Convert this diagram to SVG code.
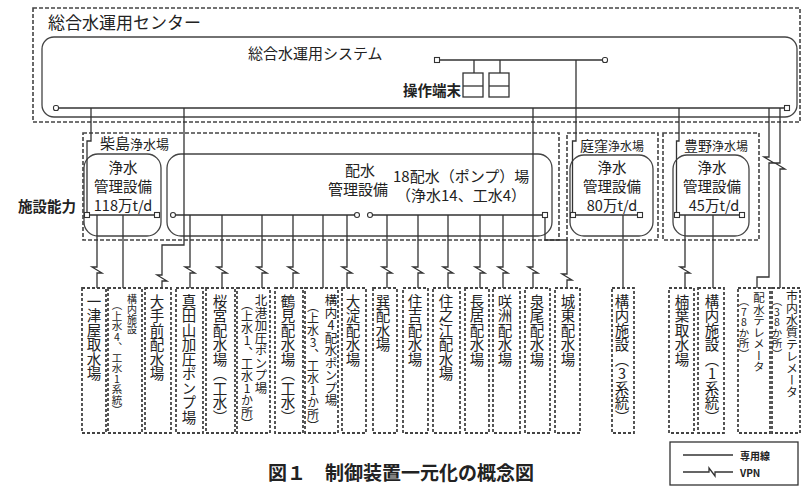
<svg xmlns="http://www.w3.org/2000/svg" width="802" height="493" viewBox="0 0 802 493">
<style>
.ln{stroke:#333;stroke-width:1.3;fill:none}
.dsh{stroke:#444;stroke-width:1.6;fill:none;stroke-dasharray:4 2}
.bdsh{stroke:#444;stroke-width:1.8;fill:none;stroke-dasharray:3 2}
.bx{stroke:#444;stroke-width:1.3;fill:#fff}
.tm{fill:#fff;stroke:#333;stroke-width:1.1}
.t{font-family:"Noto Sans CJK JP","Noto Sans CJK SC",sans-serif;fill:#222}
.c{text-anchor:middle}
.b{font-weight:bold}
.v{writing-mode:vertical-rl;text-orientation:upright;font-size:14.5px}
.vs{writing-mode:vertical-rl;text-orientation:upright;font-size:11.5px}
</style>
<rect width="802" height="493" fill="#fff"/>

<g id="center">
  <rect class="dsh" x="33" y="8" width="767" height="114"/>
  <text class="t" x="48" y="29" font-size="17">総合水運用センター</text>
</g>
<g id="system">
  <rect class="bx" x="42" y="37" width="755" height="80" rx="12"/>
  <text class="t" x="248" y="59" font-size="15">総合水運用システム</text>
</g>
<g id="terminals">
  <rect class="ln" x="463" y="73" width="20" height="24"/>
  <line class="ln" x1="463" y1="86" x2="483" y2="86"/>
  <rect class="ln" x="489" y="73" width="20" height="24"/>
  <line class="ln" x1="489" y1="86" x2="509" y2="86"/>
  <text class="t b" x="403" y="96" font-size="14.5">操作端末</text>
</g>

<g id="kunijima">
  <rect class="dsh" x="83" y="133" width="476" height="107"/>
  <text class="t" x="100" y="149" font-size="15">柴島<tspan font-size="13">浄水場</tspan></text>
</g>
<g id="kunijima-jousui">
  <rect class="bx" x="84" y="154" width="77" height="82" rx="14"/>
  <text class="t c" font-size="14.5"><tspan x="123" y="173">浄水</tspan><tspan x="123" y="192">管理設備</tspan><tspan x="123" y="211">118万t/d</tspan></text>
</g>
<g id="haisui">
  <rect class="bx" x="167" y="154" width="385" height="82" rx="14"/>
  <text class="t c" font-size="15"><tspan x="360" y="176">配水</tspan><tspan x="358" y="195">管理設備</tspan></text>
  <text class="t" font-size="15"><tspan x="393" y="182">18配水（ポンプ）場</tspan><tspan x="396" y="201">（浄水14、工水4）</tspan></text>
</g>
<g id="niwakubo">
  <rect class="dsh" x="567" y="133" width="91" height="107"/>
  <text class="t" x="580" y="151" font-size="14">庭窪<tspan font-size="12">浄水場</tspan></text>
  <rect class="bx" x="570" y="155" width="83" height="81" rx="14"/>
  <text class="t c" font-size="14.5"><tspan x="612" y="173">浄水</tspan><tspan x="612" y="192">管理設備</tspan><tspan x="612" y="211">80万t/d</tspan></text>
</g>
<g id="toyono">
  <rect class="dsh" x="663" y="133" width="96" height="107"/>
  <text class="t" x="684" y="151" font-size="14">豊野<tspan font-size="12">浄水場</tspan></text>
  <rect class="bx" x="673" y="155" width="76" height="81" rx="14"/>
  <text class="t c" font-size="14.5"><tspan x="712" y="173">浄水</tspan><tspan x="712" y="192">管理設備</tspan><tspan x="714" y="211">45万t/d</tspan></text>
</g>
<text class="t b" x="18" y="212" font-size="14.5">施設能力</text>

<g id="connectors">
  <path class="ln" d="M56,108 H787"/>
  <path class="ln" d="M437,60 H605 M474,60 V73 M500,60 V73"/>
  <path class="ln" d="M576,60 V141 H572.5 V213"/>
  <path class="ln" d="M91,108 V141 H87 V213"/>
  <path class="ln" d="M184,108 V245 H162 V275 H157 L167,281 H162 V288"/>
  <path class="ln" d="M533,108 V267 H528 L538,273 H533 V288"/>
  <path class="ln" d="M679,108 V141 H676.5 V213"/>
  <path class="ln" d="M769,108 V157 H764 L774,163 H769 V277 H757 V288"/>
  <path class="ln" d="M780,108 V163 H775 L785,169 H780 V288"/>
  <path class="ln" d="M87,215 H157 M173,215 H357 M370,215 H545 M573,215 H640 M677,215 H742"/>
  <path class="ln" d="M97,215 V267 H92 L102,273 H97 V288"/>
  <path class="ln" d="M123,215 V288"/>
  <path class="ln" d="M190,215 V267 H185 L195,273 H190 V288"/>
  <path class="ln" d="M222,215 V267 H217 L227,273 H222 V288"/>
  <path class="ln" d="M262,215 V267 H257 L267,273 H262 V288"/>
  <path class="ln" d="M293,215 V267 H288 L298,273 H293 V288"/>
  <path class="ln" d="M323,215 V288"/>
  <path class="ln" d="M347,215 V267 H342 L352,273 H347 V288"/>
  <path class="ln" d="M387,215 V267 H382 L392,273 H387 V288"/>
  <path class="ln" d="M418,215 V267 H413 L423,273 H418 V288"/>
  <path class="ln" d="M448,215 V267 H443 L453,273 H448 V288"/>
  <path class="ln" d="M480,215 V267 H475 L485,273 H480 V288"/>
  <path class="ln" d="M503,215 V267 H498 L508,273 H503 V288"/>
  <path class="ln" d="M545,215 V240 H567 V274 H562 L572,280 H567 V288"/>
  <path class="ln" d="M623,215 V288"/>
  <path class="ln" d="M685,215 V267 H680 L690,273 H685 V288"/>
  <path class="ln" d="M713,215 V288"/>
  <rect class="tm" x="53.5" y="105.5" width="5" height="5" rx="2"/>
  <rect class="tm" x="784.5" y="105.5" width="5" height="5"/>
  <rect class="tm" x="434.5" y="57.5" width="5" height="5"/>
  <rect class="tm" x="602.5" y="57.5" width="5" height="5" rx="2"/>
  <rect class="tm" x="84.5" y="212.5" width="5" height="5"/>
  <rect class="tm" x="154.5" y="212.5" width="5" height="5"/>
  <rect class="tm" x="170.5" y="212.5" width="5" height="5" rx="2.5"/>
  <rect class="tm" x="354.5" y="212.5" width="5" height="5" rx="2.5"/>
  <rect class="tm" x="367.5" y="212.5" width="5" height="5" rx="2.5"/>
  <rect class="tm" x="542.5" y="212.5" width="5" height="5"/>
  <rect class="tm" x="570.5" y="212.5" width="5" height="5"/>
  <rect class="tm" x="637.5" y="212.5" width="5" height="5"/>
  <rect class="tm" x="674.5" y="212.5" width="5" height="5"/>
  <rect class="tm" x="739.5" y="212.5" width="5" height="5"/>
</g>

<g id="n1"><rect class="bdsh" x="82" y="288" width="24" height="145"/><text class="t v" x="94" y="294">一津屋取水場</text></g>
<g id="n2"><rect class="bdsh" x="108" y="288" width="34" height="145"/><text class="t vs" x="132" y="294" style="font-size:10px">構内施設</text><text class="t vs" x="117" y="300" style="font-size:10.5px">（上水4、工水1系統）</text></g>
<g id="n3"><rect class="bdsh" x="145" y="288" width="26" height="145"/><text class="t v" x="157" y="294">大手前配水場</text></g>
<g id="n4"><rect class="bdsh" x="176" y="288" width="27" height="145"/><text class="t v" x="189" y="294">真田山加圧ポンプ場</text></g>
<g id="n5"><rect class="bdsh" x="206" y="288" width="29" height="145"/><text class="t v" x="220" y="294">桜宮配水場（工水）</text></g>
<g id="n6"><rect class="bdsh" x="237" y="288" width="33" height="145"/><text class="t vs" x="261" y="294" style="font-size:12.5px">北港加圧ポンプ場</text><text class="t vs" x="247" y="298" style="font-size:12px">（上水1、工水1か所）</text></g>
<g id="n7"><rect class="bdsh" x="275" y="288" width="28" height="145"/><text class="t v" x="288" y="294">鶴見配水場（工水）</text></g>
<g id="n8"><rect class="bdsh" x="305" y="288" width="33" height="145"/><text class="t vs" x="331" y="294" style="font-size:12.5px">構内4配水ポンプ場</text><text class="t vs" x="313" y="300" style="font-size:12px">（上水3、工水1か所）</text></g>
<g id="n9"><rect class="bdsh" x="342" y="288" width="24" height="145"/><text class="t v" x="353" y="294">大淀配水場</text></g>
<g id="n10"><rect class="bdsh" x="373" y="288" width="24" height="145"/><text class="t v" x="383" y="294">巽配水場</text></g>
<g id="n11"><rect class="bdsh" x="403" y="288" width="25" height="145"/><text class="t v" x="415" y="294">住吉配水場</text></g>
<g id="n12"><rect class="bdsh" x="433" y="288" width="27" height="145"/><text class="t v" x="446" y="294">住之江配水場</text></g>
<g id="n13"><rect class="bdsh" x="465" y="288" width="24" height="145"/><text class="t v" x="477" y="294">長居配水場</text></g>
<g id="n14"><rect class="bdsh" x="493" y="288" width="27" height="145"/><text class="t v" x="505" y="294">咲洲配水場</text></g>
<g id="n15"><rect class="bdsh" x="525" y="288" width="25" height="145"/><text class="t v" x="537" y="294">泉尾配水場</text></g>
<g id="n16"><rect class="bdsh" x="555" y="288" width="25" height="145"/><text class="t v" x="568" y="294">城東配水場</text></g>
<g id="n17"><rect class="bdsh" x="612" y="288" width="22" height="145"/><text class="t v" x="622" y="294">構内施設（3系統）</text></g>
<g id="n18"><rect class="bdsh" x="669" y="288" width="25" height="145"/><text class="t v" x="682" y="294">楠葉取水場</text></g>
<g id="n19"><rect class="bdsh" x="698" y="288" width="26" height="145"/><text class="t v" x="712" y="294">構内施設（1系統）</text></g>
<g id="n20"><rect class="bdsh" x="738" y="288" width="32" height="145"/><text class="t vs" x="759" y="292">配水テレメータ</text><text class="t vs" x="744" y="296" style="font-size:10.5px">（78か所）</text></g>
<g id="n21"><rect class="bdsh" x="772" y="288" width="28" height="145"/><text class="t vs" x="792" y="290" style="font-size:12px">市内水質テレメータ</text><text class="t vs" x="777" y="296" style="font-size:10.5px">（38か所）</text></g>

<g id="legend">
  <rect x="670" y="442" width="128" height="43" fill="none" stroke="#333" stroke-width="1.3"/>
  <path class="ln" d="M683,455 H733"/>
  <path class="ln" d="M683,472 H709 V468 L715,476 V472 H733"/>
  <text class="t b" x="740" y="460" font-size="10">専用線</text>
  <text class="t b" x="740" y="477" font-size="10">VPN</text>
</g>
<text class="t b" x="268" y="480" font-size="19" fill="#333">図１　制御装置一元化の概念図</text>
</svg>
